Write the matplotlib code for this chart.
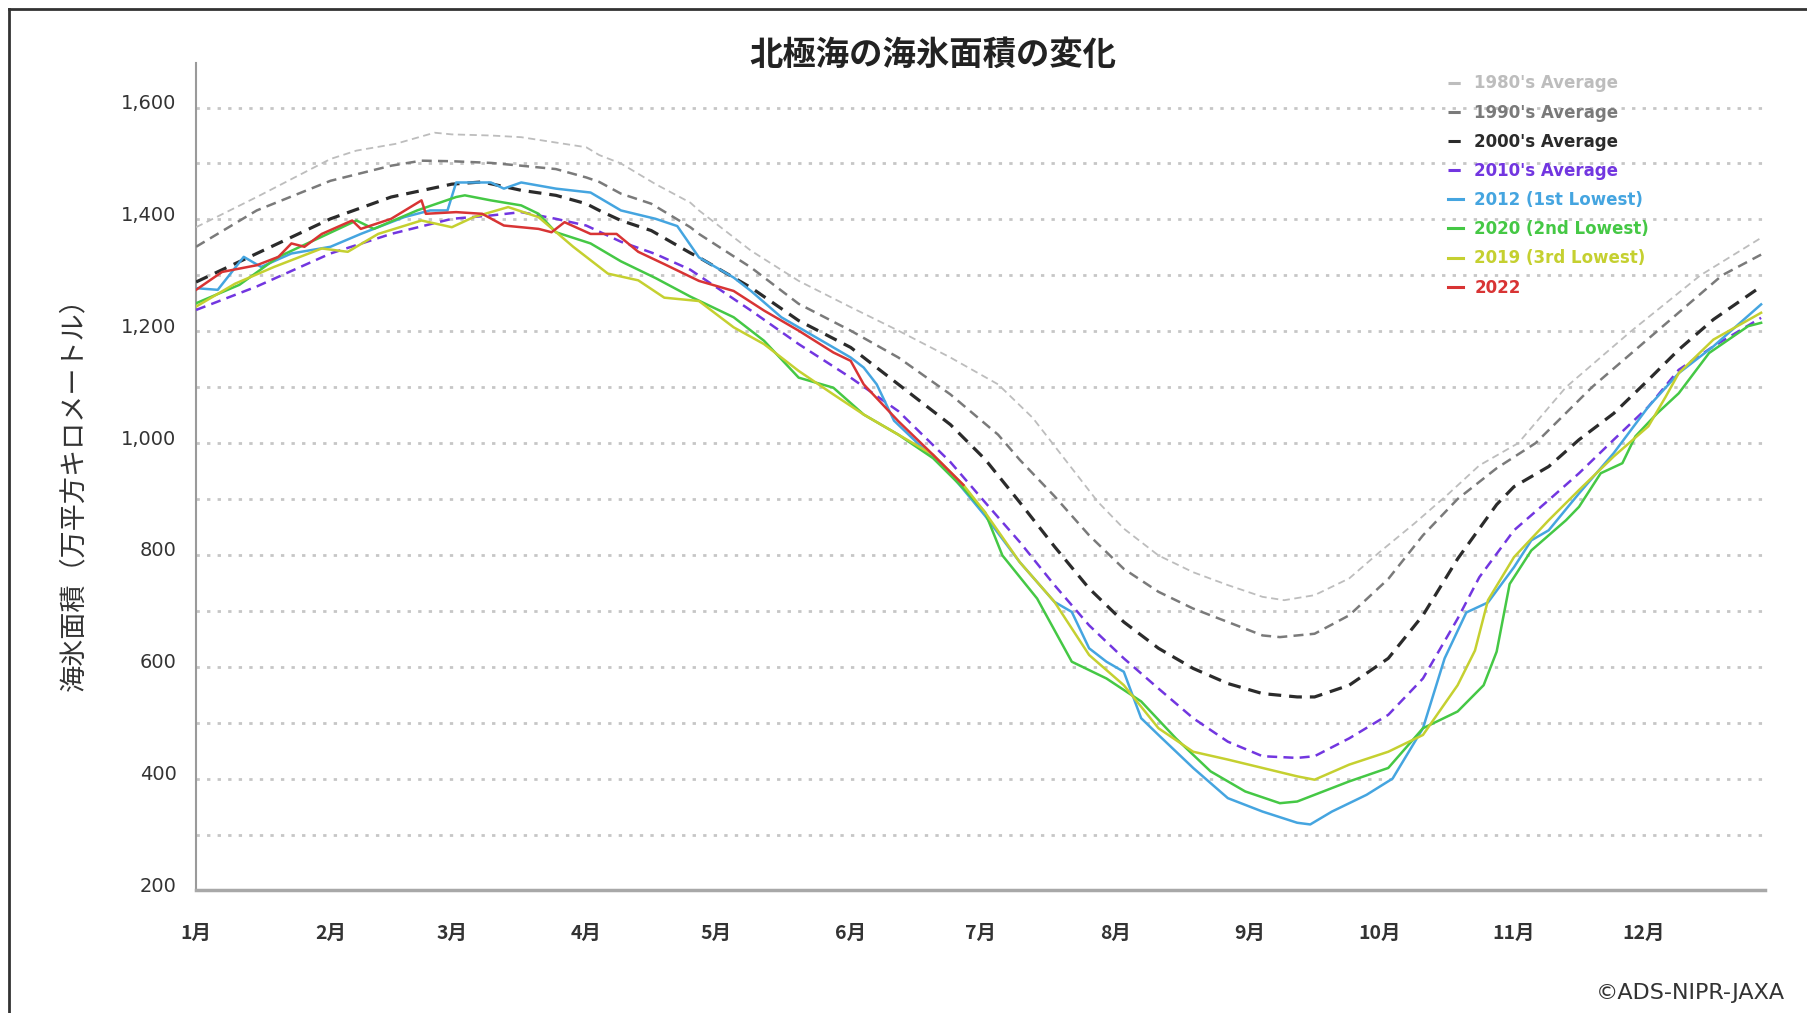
import matplotlib
matplotlib.use("Agg")
import matplotlib.pyplot as plt
from matplotlib.lines import Line2D
from matplotlib.transforms import ScaledTranslation

plt.rcParams["font.family"] = ["Noto Sans CJK JP", "DejaVu Sans"]

# Day-of-year (0 = Jan 1) and sea-ice extent (10^4 km^2).
AVG_1980S_DAY = [0, 14, 31, 37, 46, 55, 59, 68, 75, 90, 93, 98, 106, 114, 116, 128, 139, 151, 162, 174,
                 185, 193, 200, 204, 208, 214, 222, 230, 238, 246, 251, 258, 266, 273, 281, 289, 296, 305,
                 316, 331, 347, 361]
AVG_1980S = [1386, 1440, 1508, 1523, 1535, 1555, 1552, 1550, 1547, 1529, 1515, 1500, 1463, 1430, 1416, 1344,
             1290, 1243, 1201, 1153, 1105, 1045, 975, 935, 895, 847, 799, 769, 746, 725, 719, 728, 758, 805,
             856, 910, 960, 1000, 1100, 1200, 1300, 1367]

AVG_1990S_DAY = [0, 14, 31, 45, 52, 59, 68, 75, 83, 90, 93, 98, 105, 114, 116, 128, 139, 151, 162, 174, 185,
                 190, 198, 206, 214, 222, 230, 238, 246, 250, 258, 266, 275, 283, 291, 300, 309, 322, 337,
                 352, 361]
AVG_1990S = [1351, 1416, 1469, 1496, 1505, 1504, 1501, 1496, 1490, 1475, 1467, 1446, 1428, 1386, 1374, 1314,
             1249, 1201, 1153, 1087, 1015, 970, 905, 835, 775, 734, 704, 680, 656, 653, 659, 692, 757, 835,
             900, 955, 1000, 1100, 1200, 1300, 1337]

AVG_2000S_DAY = [0, 14, 31, 45, 59, 66, 75, 83, 90, 93, 98, 105, 114, 116, 128, 139, 151, 162, 174, 182, 190,
                 198, 206, 214, 222, 230, 238, 246, 254, 258, 266, 275, 283, 291, 300, 304, 312, 319, 327,
                 335, 342, 350, 361]
AVG_2000S = [1288, 1339, 1401, 1440, 1463, 1467, 1452, 1443, 1428, 1416, 1398, 1380, 1340, 1332, 1278, 1219,
             1171, 1105, 1033, 971, 894, 815, 740, 680, 633, 597, 570, 552, 546, 546, 567, 615, 692, 793,
             890, 922, 958, 1006, 1053, 1113, 1167, 1221, 1280]

AVG_2010S_DAY = [0, 14, 31, 45, 59, 68, 75, 83, 90, 98, 106, 114, 128, 139, 151, 162, 174, 182, 190, 198,
                 206, 214, 222, 230, 238, 246, 254, 258, 266, 275, 283, 291, 296, 304, 312, 319, 327, 335,
                 342, 350, 361]
AVG_2010S = [1238, 1280, 1339, 1374, 1401, 1407, 1413, 1401, 1389, 1360, 1338, 1310, 1237, 1177, 1117, 1057,
             966, 894, 823, 746, 674, 615, 561, 508, 466, 440, 437, 440, 472, 514, 579, 686, 760, 844, 898,
             946, 1006, 1065, 1131, 1173, 1224]

YR_2012_DAY = [0, 5, 11, 15, 22, 31, 38, 48, 54, 58, 60, 68, 71, 75, 83, 91, 98, 106, 111, 116, 124, 128,
               135, 143, 151, 154, 157, 161, 166, 174, 182, 190, 198, 202, 206, 210, 214, 218, 222, 230, 238,
               246, 254, 257, 262, 270, 276, 283, 288, 293, 298, 304, 308, 312, 319, 327, 335, 342, 350, 361]
YR_2012 = [1277, 1274, 1333, 1315, 1339, 1351, 1374, 1404, 1416, 1416, 1466, 1466, 1455, 1466, 1455, 1448,
           1416, 1401, 1388, 1332, 1296, 1272, 1225, 1189, 1153, 1135, 1105, 1040, 1003, 945, 870, 787, 716,
           698, 633, 609, 591, 508, 478, 419, 365, 341, 321, 318, 341, 371, 400, 490, 615, 697, 715, 778,
           826, 844, 910, 982, 1065, 1125, 1173, 1248]

YR_2020_DAY = [0, 10, 19, 29, 37, 41, 51, 60, 62, 68, 75, 79, 83, 91, 98, 106, 114, 124, 131, 139, 147, 154,
               162, 170, 177, 182, 186, 194, 202, 210, 218, 226, 234, 242, 250, 254, 258, 266, 275, 283, 291,
               297, 300, 303, 308, 316, 319, 324, 329, 332, 337, 342, 349, 358, 361]
YR_2020 = [1250, 1283, 1333, 1369, 1398, 1383, 1416, 1440, 1443, 1434, 1425, 1410, 1377, 1357, 1325, 1295,
           1262, 1225, 1183, 1117, 1099, 1051, 1015, 973, 919, 876, 799, 722, 609, 579, 538, 472, 413, 377,
           356, 359, 371, 395, 419, 490, 520, 567, 627, 748, 808, 862, 886, 946, 964, 1012, 1053, 1089, 1161,
           1209, 1215]

YR_2019_DAY = [0, 9, 18, 29, 35, 42, 52, 59, 64, 72, 79, 87, 95, 102, 108, 116, 124, 131, 139, 147, 154, 162,
               170, 177, 182, 190, 198, 206, 214, 222, 230, 238, 246, 254, 258, 266, 275, 283, 291, 295, 298,
               304, 312, 319, 327, 335, 339, 342, 350, 361]
YR_2019 = [1244, 1285, 1315, 1348, 1342, 1374, 1398, 1386, 1404, 1422, 1404, 1351, 1303, 1291, 1260, 1254,
           1207, 1177, 1129, 1087, 1051, 1015, 979, 925, 876, 787, 716, 621, 567, 490, 448, 434, 419, 404,
           398, 425, 448, 478, 567, 629, 719, 796, 862, 916, 976, 1030, 1083, 1125, 1185, 1233]

YR_2022_DAY = [0, 6, 14, 19, 22, 25, 29, 36, 38, 45, 52, 53, 60, 66, 71, 79, 82, 85, 91, 97, 102, 108, 116,
               124, 131, 139, 147, 151, 154, 162, 170, 177]
YR_2022 = [1274, 1306, 1318, 1333, 1357, 1351, 1374, 1398, 1383, 1401, 1434, 1410, 1413, 1410, 1389, 1383,
           1377, 1395, 1374, 1374, 1342, 1320, 1290, 1272, 1237, 1201, 1162, 1147, 1105, 1039, 979, 925]

MONTH_START_DAY = [0, 31, 59, 90, 120, 151, 181, 212, 243, 273, 304, 334]
MONTH_LABELS = ["1月", "2月", "3月", "4月", "5月", "6月", "7月", "8月", "9月", "10月", "11月", "12月"]
Y_TICKS = [200, 400, 600, 800, 1000, 1200, 1400, 1600]

DASH = (0, (4, 2.5))
SERIES = [
    (AVG_1980S_DAY, AVG_1980S, "1980's Average", "#bdbdbd", 1.3, DASH),
    (AVG_1990S_DAY, AVG_1990S, "1990's Average", "#7a7a7a", 1.8, DASH),
    (AVG_2000S_DAY, AVG_2000S, "2000's Average", "#2b2b2b", 2.3, DASH),
    (AVG_2010S_DAY, AVG_2010S, "2010's Average", "#7236e0", 1.8, DASH),
    (YR_2012_DAY, YR_2012, "2012 (1st Lowest)", "#45a5e0", 1.8, "-"),
    (YR_2020_DAY, YR_2020, "2020 (2nd Lowest)", "#45c845", 1.8, "-"),
    (YR_2019_DAY, YR_2019, "2019 (3rd Lowest)", "#c5d030", 1.8, "-"),
    (YR_2022_DAY, YR_2022, "2022", "#d83434", 1.8, "-"),
]

fig = plt.figure(figsize=(18.07, 10.13), dpi=100)
fig.patch.set_facecolor("white")
ax = fig.add_axes([0.1085, 0.121, 0.8685, 0.817])

for y in range(300, 1700, 100):
    ax.axhline(y, color="#c6c6c6", linewidth=2.0, linestyle=(0, (1.2, 2.6)), zorder=1)

handles = []
for days, vals, label, color, lw, ls in SERIES:
    ax.plot(days, vals, color=color, linewidth=lw, linestyle=ls, zorder=3)
    handles.append(Line2D([0], [0], color=color, linewidth=2.2, linestyle=ls, label=label))

ax.set_xlim(0, 362)
ax.set_ylim(200, 1680)
ax.set_yticks(Y_TICKS)
ax.set_yticklabels([f"{v:,}" for v in Y_TICKS], fontsize=14, color="#333333", family="DejaVu Sans")
ax.set_xticks(MONTH_START_DAY)
ax.set_xticklabels(MONTH_LABELS, fontsize=14, color="#333333", fontweight="bold")
ax.tick_params(axis="y", length=0, pad=14)
ax.tick_params(axis="x", length=0, pad=24)
# y labels sit a little above their gridlines in the original
lift = ScaledTranslation(0, 6 / 100, fig.dpi_scale_trans)
for lab in ax.get_yticklabels():
    lab.set_transform(lab.get_transform() + lift)
for side in ("top", "right"):
    ax.spines[side].set_visible(False)
ax.spines["left"].set_color("#9a9a9a")
ax.spines["left"].set_linewidth(1.5)
ax.spines["bottom"].set_color("#a8a8a8")
ax.spines["bottom"].set_linewidth(2.5)

leg = ax.legend(handles=handles, loc="upper left", bbox_to_anchor=(0.798, 0.986), frameon=False,
                borderaxespad=0, borderpad=0, handlelength=0.85, handletextpad=0.7, labelspacing=0.67,
                labelcolor="linecolor", prop={"family": "DejaVu Sans", "weight": "bold", "size": 12})

fig.text(0.516, 0.9455, "北極海の海氷面積の変化", ha="center", va="center", fontsize=24,
         fontweight="bold", color="#222222")
fig.text(0.041, 0.519, "海氷面積（万平方キロメートル）", ha="center", va="center", rotation=90,
         fontsize=19.5, color="#333333")
fig.text(0.988, 0.02, "©ADS-NIPR-JAXA", ha="right", va="center", fontsize=16, color="#333333",
         family="DejaVu Sans")

# outer frame: left and top edges
fig.add_artist(Line2D([0.005, 0.005], [0.0, 0.991], transform=fig.transFigure, color="#333333", linewidth=2))
fig.add_artist(Line2D([0.005, 1.0], [0.991, 0.991], transform=fig.transFigure, color="#333333", linewidth=2))

fig.savefig("out.png", dpi=100, facecolor="white")
